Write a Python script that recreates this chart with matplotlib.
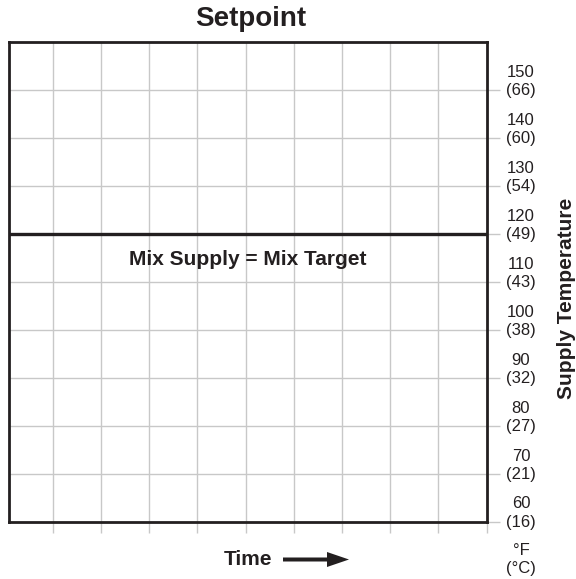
import matplotlib
matplotlib.use("Agg")
import matplotlib.pyplot as plt
import matplotlib.patches as mpatches

plt.rcParams['font.family'] = ['Liberation Sans', 'DejaVu Sans']

# ---- data ----
temps_f = [60, 70, 80, 90, 100, 110, 120, 130, 140, 150]
temps_c = [16, 21, 27, 32, 38, 43, 49, 54, 60, 66]
time_cols = [1, 2, 3, 4, 5, 6, 7, 8, 9, 10]
setpoint_f = 120
title = "Setpoint"
line_label = "Mix Supply = Mix Target"
y_label = "Supply Temperature"
x_label = "Time"

DARK = '#231f20'
GRID = '#c8c8c8'

W, H = 576, 579
fig = plt.figure(figsize=(W / 100, H / 100), dpi=100)
left_px, right_px, top_px, bot_px = 9, 486.5, 42, 521.5
ax = fig.add_axes([left_px / W, 1 - bot_px / H, (right_px - left_px) / W, (bot_px - top_px) / H])

ax.set_xlim(0.09, 10)
ax.set_ylim(60, 160)

# grid lines
for x in time_cols[:-1]:
    ax.axvline(x, color=GRID, lw=1.0, zorder=1)
for t in temps_f[1:]:
    ax.axhline(t, color=GRID, lw=1.0, zorder=1)

# ticks extending outside the box
ax.set_xticks(time_cols)
ax.set_yticks(temps_f)
ax.yaxis.tick_right()
ax.tick_params(axis='x', direction='out', length=11 * 0.72, width=1.0, color=GRID,
               labelbottom=False, bottom=True, top=False)
ax.tick_params(axis='y', direction='out', length=13 * 0.72, width=1.0, color=GRID,
               labelright=False, right=True, left=False)

for s in ax.spines.values():
    s.set_color(DARK)
    s.set_linewidth(2.0)
    s.set_zorder(3)

# setpoint line
ax.axhline(setpoint_f, color=DARK, lw=2.4, zorder=4)
ax.annotate(line_label, xy=(0.5, setpoint_f), xycoords=('axes fraction', 'data'),
            xytext=(0, -31 * 0.72), textcoords='offset points',
            ha='center', va='baseline', fontsize=15, fontweight='bold', color=DARK)

# right tick labels (°F over °C)
xoff = (521 - right_px) * 0.72
for f, c in zip(temps_f, temps_c):
    ax.annotate(str(f), xy=(1, f), xycoords=('axes fraction', 'data'),
                xytext=(xoff, 13 * 0.72), textcoords='offset points',
                ha='center', va='baseline', fontsize=12, color=DARK, annotation_clip=False)
    ax.annotate(f"({c})", xy=(1, f), xycoords=('axes fraction', 'data'),
                xytext=(xoff, -5.3 * 0.72), textcoords='offset points',
                ha='center', va='baseline', fontsize=12, color=DARK, annotation_clip=False)

# units label
ax.annotate("°F", xy=(1, 60), xycoords=('axes fraction', 'data'),
            xytext=(xoff, -33.5 * 0.72), textcoords='offset points',
            ha='center', va='baseline', fontsize=12, color=DARK, annotation_clip=False)
ax.annotate("(°C)", xy=(1, 60), xycoords=('axes fraction', 'data'),
            xytext=(xoff, -52 * 0.72), textcoords='offset points',
            ha='center', va='baseline', fontsize=12, color=DARK, annotation_clip=False)

# title
ax.annotate(title, xy=(0.5, 1), xycoords='axes fraction',
            xytext=(3 * 0.72, 16 * 0.72), textcoords='offset points',
            ha='center', va='baseline', fontsize=20, fontweight='bold', color=DARK)

# y label
ax.annotate(y_label, xy=(1, 0.5), xycoords='axes fraction',
            xytext=((566.5 - right_px) * 0.72, -17 * 0.72), textcoords='offset points',
            ha='center', va='center', rotation=90, fontsize=15, fontweight='bold', color=DARK)

# x label with arrow
ax.annotate(x_label, xy=(0, 0), xycoords='axes fraction',
            xytext=((247.5 - left_px) * 0.72, -(565 - bot_px) * 0.72), textcoords='offset points',
            ha='center', va='baseline', fontsize=15, fontweight='bold', color=DARK,
            annotation_clip=False)
arrow = mpatches.FancyArrow(2.83, (H - 559.5) / 100, 0.66, 0, width=0.04, head_width=0.15,
                            head_length=0.22, length_includes_head=True,
                            transform=fig.dpi_scale_trans, color=DARK, lw=0)
fig.patches.append(arrow)

fig.savefig("out.png", dpi=100)
